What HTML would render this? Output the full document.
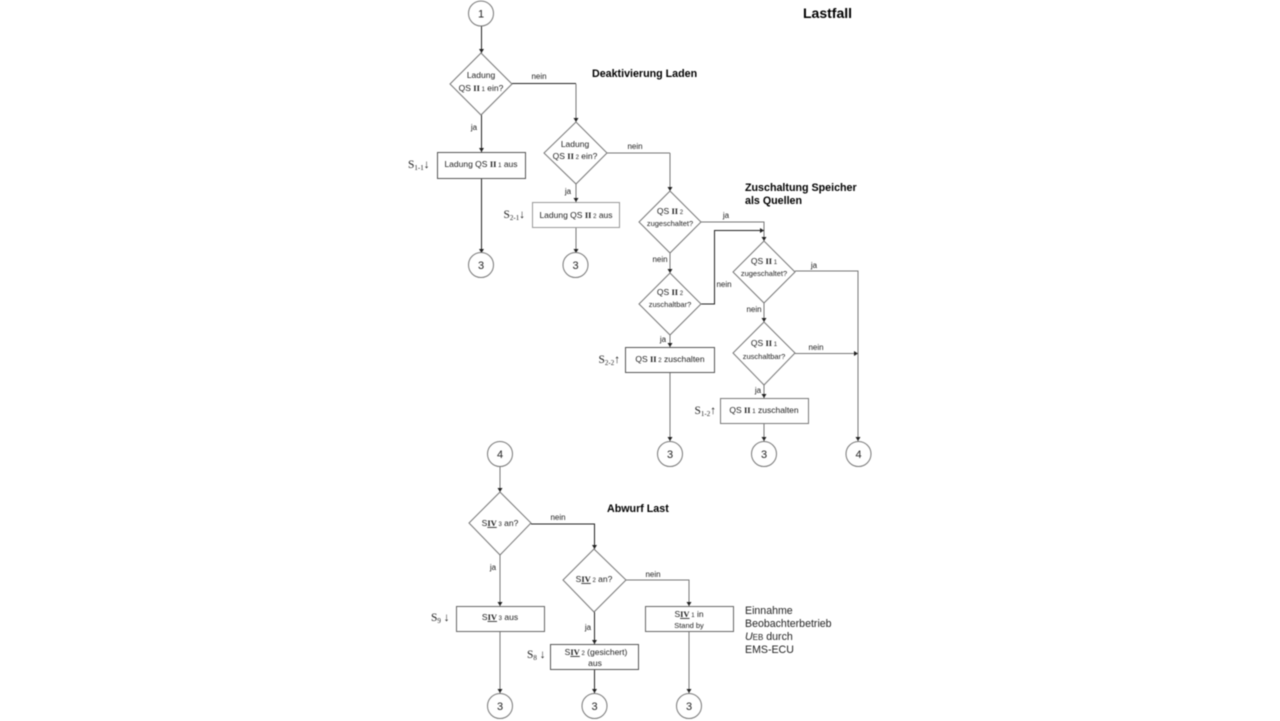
<!DOCTYPE html>
<html><head><meta charset="utf-8"><style>
html,body{margin:0;padding:0;background:#fff;width:1280px;height:721px;overflow:hidden}
svg{display:block;filter:blur(.5px)}
text{font-family:"Liberation Sans",sans-serif;fill:#222;font-size:8.5px;text-anchor:middle}
tspan[font-weight]{font-size:8.5px;font-family:"Liberation Serif",serif}
.b{font-weight:bold;font-size:10.7px;text-anchor:start;fill:#000}
.n{font-size:11px}
.l{font-size:8px}
.s{font-family:"Liberation Serif",serif;font-size:11.5px;text-anchor:start}
.e{font-size:10.6px;text-anchor:start}
.g{fill:none;stroke:#777;stroke-width:1}
.k{fill:none;stroke:#222;stroke-width:1}
.f{fill:#fff;stroke:#777;stroke-width:1}
</style></head><body>
<svg width="1280" height="721" viewBox="0 0 1280 721" xmlns="http://www.w3.org/2000/svg">
<defs><marker id="a" markerWidth="5" markerHeight="5" refX="4" refY="2.5" orient="auto" markerUnits="userSpaceOnUse"><path d="M0 0L4 2.5L0 5z" fill="#222"/></marker></defs>

<path class="k" marker-end="url(#a)" d="M481.5 26V53"/>
<path class="k" marker-end="url(#a)" d="M481.5 115V152"/>
<path class="k" marker-end="url(#a)" d="M481.5 178V253"/>
<path class="k" d="M512 83.5H576"/>
<path class="g" marker-end="url(#a)" d="M576 84V122"/>
<path class="g" d="M607 153H670"/>
<path class="g" marker-end="url(#a)" d="M670 153V191"/>
<path class="g" marker-end="url(#a)" d="M576 184V202"/>
<path class="g" marker-end="url(#a)" d="M576 228V253"/>
<path class="g" marker-end="url(#a)" d="M670 253V273"/>
<path class="g" marker-end="url(#a)" d="M670 335V347"/>
<path class="g" marker-end="url(#a)" d="M670 372V441"/>
<path class="g" marker-end="url(#a)" d="M701 222H764V241"/>
<path class="k" marker-end="url(#a)" d="M701 304H714.5V230.5H764"/>
<path class="g" marker-end="url(#a)" d="M795 271H858V441"/>
<path class="g" marker-end="url(#a)" d="M795 353.5H858"/>
<path class="g" marker-end="url(#a)" d="M764 303V322"/>
<path class="g" marker-end="url(#a)" d="M764 385V398"/>
<path class="g" marker-end="url(#a)" d="M764 423V441"/>
<path class="g" marker-end="url(#a)" d="M500 467V492"/>
<path class="g" marker-end="url(#a)" d="M500 555V606"/>
<path class="g" marker-end="url(#a)" d="M500 631V693"/>
<path class="k" marker-end="url(#a)" d="M531 524H594.5V549"/>
<path class="k" marker-end="url(#a)" d="M594.5 612V644"/>
<path class="k" marker-end="url(#a)" d="M594.5 669V693"/>
<path class="g" marker-end="url(#a)" d="M626 580H689V606"/>
<path class="g" marker-end="url(#a)" d="M689 631V693"/>

<g class="f">
<polygon class="f" points="481,53 512,84 481,115 450,84"/>
<polygon class="f" points="576,122 607,153 576,184 544,153"/>
<polygon class="f" points="670,191 701,222 670,253 639,222"/>
<polygon class="f" points="670,273 701,304 670,335 639,304"/>
<polygon class="f" points="764,241 795,272 764,303 733,272"/>
<polygon class="f" points="764,322 795,353 764,385 733,353"/>
<polygon class="f" points="500,492 531,523 500,555 469,523"/>
<polygon class="f" points="594,549 626,580 594,612 563,580"/>
</g>

<rect class="f" x="437.5" y="152.5" width="88" height="26" style="stroke:#555"/>
<rect class="f" x="532.5" y="202.5" width="87" height="25" style="stroke:#999"/>
<rect class="f" x="625.5" y="347.5" width="89" height="25" style="stroke:#555"/>
<rect class="f" x="720.5" y="398.5" width="88" height="25" style="stroke:#777"/>
<rect class="f" x="456.5" y="606.5" width="88" height="25" style="stroke:#666"/>
<rect class="f" x="550.5" y="644.5" width="88" height="25" style="stroke:#555"/>
<rect class="f" x="645.5" y="606.5" width="88" height="25" style="stroke:#666"/>

<g>
<circle class="f" cx="481" cy="13.5" r="12.5"/>
<circle class="f" cx="481" cy="265" r="12.5"/>
<circle class="f" cx="575.5" cy="265" r="12.5"/>
<circle class="f" cx="670" cy="454" r="12.5"/>
<circle class="f" cx="764" cy="454" r="12.5"/>
<circle class="f" cx="858.5" cy="454" r="12.5"/>
<circle class="f" cx="500" cy="454" r="12.5"/>
<circle class="f" cx="500" cy="706" r="12.5"/>
<circle class="f" cx="594.5" cy="706" r="12.5"/>
<circle class="f" cx="689" cy="706" r="12.5"/>
</g>
<text class="n" x="481" y="17.5">1</text>
<text class="n" x="481" y="269">3</text>
<text class="n" x="575.5" y="269">3</text>
<text class="n" x="670" y="458">3</text>
<text class="n" x="764" y="458">3</text>
<text class="n" x="858.5" y="458">4</text>
<text class="n" x="500" y="458">4</text>
<text class="n" x="500" y="710">3</text>
<text class="n" x="594.5" y="710">3</text>
<text class="n" x="689" y="710">3</text>

<text class="b" x="803" y="18" style="font-size:14px">Lastfall</text>
<text class="b" x="592" y="77">Deaktivierung Laden</text>
<text class="b" x="745" y="191">Zuschaltung Speicher</text>
<text class="b" x="745" y="204">als Quellen</text>
<text class="b" x="607" y="512">Abwurf Last</text>

<text x="481" y="78">Ladung</text>
<text x="481" y="91">QS <tspan font-size="7" font-weight="bold">II</tspan><tspan font-size="6"> 1</tspan> ein?</text>
<text x="575" y="147">Ladung</text>
<text x="575" y="159">QS <tspan font-size="7" font-weight="bold">II</tspan><tspan font-size="6"> 2</tspan> ein?</text>
<text x="670" y="214">QS <tspan font-size="7" font-weight="bold">II</tspan><tspan font-size="6"> 2</tspan></text>
<text x="670" y="226" style="font-size:7.5px">zugeschaltet?</text>
<text x="670" y="295">QS <tspan font-size="7" font-weight="bold">II</tspan><tspan font-size="6"> 2</tspan></text>
<text x="670" y="307" style="font-size:7.5px">zuschaltbar?</text>
<text x="764" y="264">QS <tspan font-size="7" font-weight="bold">II</tspan><tspan font-size="6"> 1</tspan></text>
<text x="764" y="276" style="font-size:7.5px">zugeschaltet?</text>
<text x="764" y="346">QS <tspan font-size="7" font-weight="bold">II</tspan><tspan font-size="6"> 1</tspan></text>
<text x="764" y="359" style="font-size:7.5px">zuschaltbar?</text>
<text x="500" y="526">S<tspan font-size="7" font-weight="bold" text-decoration="underline">IV</tspan><tspan font-size="6"> 3</tspan> an?</text>
<text x="594" y="582">S<tspan font-size="7" font-weight="bold" text-decoration="underline">IV</tspan><tspan font-size="6"> 2</tspan> an?</text>

<text x="481" y="167">Ladung QS <tspan font-size="7" font-weight="bold">II</tspan><tspan font-size="6"> 1</tspan> aus</text>
<text x="576" y="218">Ladung QS <tspan font-size="7" font-weight="bold">II</tspan><tspan font-size="6"> 2</tspan> aus</text>
<text x="670" y="362">QS <tspan font-size="7" font-weight="bold">II</tspan><tspan font-size="6"> 2</tspan> zuschalten</text>
<text x="764" y="413">QS <tspan font-size="7" font-weight="bold">II</tspan><tspan font-size="6"> 1</tspan> zuschalten</text>
<text x="500" y="620">S<tspan font-size="7" font-weight="bold" text-decoration="underline">IV</tspan><tspan font-size="6"> 3</tspan> aus</text>
<text x="596" y="655">S<tspan font-size="7" font-weight="bold" text-decoration="underline">IV</tspan><tspan font-size="6"> 2</tspan> (gesichert)</text>
<text x="595" y="666">aus</text>
<text x="689" y="617">S<tspan font-size="7" font-weight="bold" text-decoration="underline">IV</tspan><tspan font-size="6"> 1</tspan> in</text>
<text x="689" y="628" style="font-size:7.5px">Stand by</text>

<g class="l">
<text class="l" x="539" y="79">nein</text>
<text class="l" x="474" y="130">ja</text>
<text class="l" x="635" y="149">nein</text>
<text class="l" x="568" y="194">ja</text>
<text class="l" x="726" y="218">ja</text>
<text class="l" x="660" y="262">nein</text>
<text class="l" x="724" y="287">nein</text>
<text class="l" x="663" y="342">ja</text>
<text class="l" x="814" y="268">ja</text>
<text class="l" x="754" y="312">nein</text>
<text class="l" x="816" y="350">nein</text>
<text class="l" x="758" y="393">ja</text>
<text class="l" x="558" y="520">nein</text>
<text class="l" x="493" y="570">ja</text>
<text class="l" x="653" y="577">nein</text>
<text class="l" x="588" y="630">ja</text>
</g>

<text class="s" x="408" y="168">S<tspan font-size="7" dy="2">1-1</tspan><tspan dy="-2">↓</tspan></text>
<text class="s" x="503.5" y="218">S<tspan font-size="7" dy="2">2-1</tspan><tspan dy="-2">↓</tspan></text>
<text class="s" x="598.5" y="363">S<tspan font-size="7" dy="2">2-2</tspan><tspan dy="-2">↑</tspan></text>
<text class="s" x="694.5" y="414">S<tspan font-size="7" dy="2">1-2</tspan><tspan dy="-2">↑</tspan></text>
<text class="s" x="431" y="621">S<tspan font-size="7" dy="2">9</tspan><tspan dy="-2"> ↓</tspan></text>
<text class="s" x="527" y="658">S<tspan font-size="7" dy="2">8</tspan><tspan dy="-2"> ↓</tspan></text>

<text class="e" x="745" y="614">Einnahme</text>
<text class="e" x="745" y="627">Beobachterbetrieb</text>
<text class="e" x="745" y="640"><tspan font-style="italic">U</tspan><tspan font-size="8">EB</tspan> durch</text>
<text class="e" x="745" y="653">EMS-ECU</text>
</svg>
</body></html>
